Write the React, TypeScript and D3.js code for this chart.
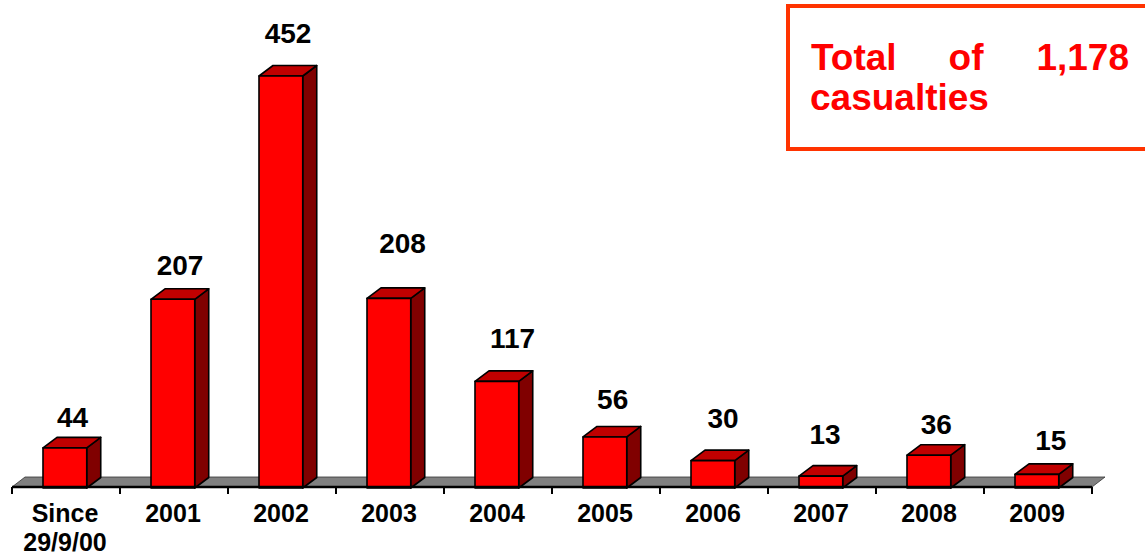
import React from "react";
import * as d3 from "d3";

const categories: string[][] = [
  ["Since", "29/9/00"],
  ["2001"],
  ["2002"],
  ["2003"],
  ["2004"],
  ["2005"],
  ["2006"],
  ["2007"],
  ["2008"],
  ["2009"],
];
const values: number[] = [44, 207, 452, 208, 117, 56, 30, 13, 36, 15];
// label nudges (dx, dy) relative to default placement
const labelNudgeX: number[] = [-1.5, -2, -2, 4.5, 6.5, -1.3, 1, -5, -1.7, 4.8];
const labelNudgeY: number[] = [9, 6, -3, -15, -3, 2, -3, -2, 9, 6];
const boxLine1: string[] = ["Total", "of", "1,178"];
const boxLine2 = "casualties";

const W = 1145;
const H = 557;
const FONT = "'Liberation Sans', Arial, Helvetica, sans-serif";

export default function App() {
  const keys = categories.map((c) => c.join(" "));
  const x = d3.scaleBand<string>().domain(keys).range([12, 1092]).padding(0);
  const y = d3.scaleLinear().domain([0, 452]).range([488, 76]);
  const bw = x.bandwidth();
  const frontOff = bw * 0.287;
  const frontW = bw * 0.405;
  const ddx = 14;
  const ddy = -10.5;
  const floorY = 487;
  const floorDx = 13;
  const floorDy = -10;
  const x0 = x.range()[0];
  const x1 = x.range()[1];

  const floorPath = `M${x0},${floorY} L${x1},${floorY} L${x1 + floorDx},${floorY + floorDy} L${x0 + floorDx},${floorY + floorDy} Z`;

  const tickXs = d3.range(keys.length + 1).map((i) => x0 + i * bw);

  return (
    <svg
      width={W}
      height={H}
      style={{ position: "absolute", left: 0, top: 0, background: "#fff" }}
    >
      <rect x={0} y={0} width={W} height={H} fill="#fff" />
      {/* floor */}
      <path d={floorPath} fill="#808080" stroke="#333" strokeWidth={0.8} />
      {/* bars */}
      {values.map((v, i) => {
        const bx = (x(keys[i]) as number) + frontOff;
        const top = y(v);
        const bot = y(0);
        const front = `M${bx},${top} L${bx + frontW},${top} L${bx + frontW},${bot} L${bx},${bot} Z`;
        const topFace = `M${bx},${top} L${bx + ddx},${top + ddy} L${bx + frontW + ddx},${top + ddy} L${bx + frontW},${top} Z`;
        const side = `M${bx + frontW},${top} L${bx + frontW + ddx},${top + ddy} L${bx + frontW + ddx},${bot + ddy} L${bx + frontW},${bot} Z`;
        return (
          <g key={i} stroke="#000" strokeWidth={1.6} strokeLinejoin="round">
            <path d={side} fill="#800000" />
            <path d={topFace} fill="#C00000" />
            <path d={front} fill="#FF0000" />
          </g>
        );
      })}
      {/* axis line and ticks */}
      <line x1={x0} x2={x1} y1={floorY} y2={floorY} stroke="#000" strokeWidth={2.5} />
      {tickXs.map((tx, i) => (
        <line key={i} x1={tx} x2={tx} y1={floorY} y2={floorY + 7} stroke="#000" strokeWidth={2} />
      ))}
      {/* value labels */}
      {values.map((v, i) => {
        const bx = (x(keys[i]) as number) + frontOff;
        return (
          <text
            key={i}
            x={bx + 31 + labelNudgeX[i]}
            y={y(v) - 30 + labelNudgeY[i]}
            textAnchor="middle"
            fontFamily={FONT}
            fontWeight="bold"
            fontSize={28}
            fill="#000"
          >
            {d3.format("d")(v)}
          </text>
        );
      })}
      {/* category labels */}
      {categories.map((c, i) => (
        <text
          key={i}
          x={(x(keys[i]) as number) + bw / 2 - 1}
          y={522}
          textAnchor="middle"
          fontFamily={FONT}
          fontWeight="bold"
          fontSize={25}
          fill="#000"
        >
          {c.map((line, j) => (
            <tspan key={j} x={(x(keys[i]) as number) + bw / 2 - 1} dy={j === 0 ? 0 : 28.5}>
              {line}
            </tspan>
          ))}
        </text>
      ))}
      {/* text box */}
      <rect x={788} y={6} width={400} height={143} fill="#fff" stroke="#FF3300" strokeWidth={4} />
      <g fontFamily={FONT} fontWeight="bold" fontSize={37} fill="#FF0000">
        <text x={811} y={70} textAnchor="start">{boxLine1[0]}</text>
        <text x={966} y={70} textAnchor="middle">{boxLine1[1]}</text>
        <text x={1129} y={70} textAnchor="end">{boxLine1[2]}</text>
        <text x={810} y={110} textAnchor="start">{boxLine2}</text>
      </g>
    </svg>
  );
}
